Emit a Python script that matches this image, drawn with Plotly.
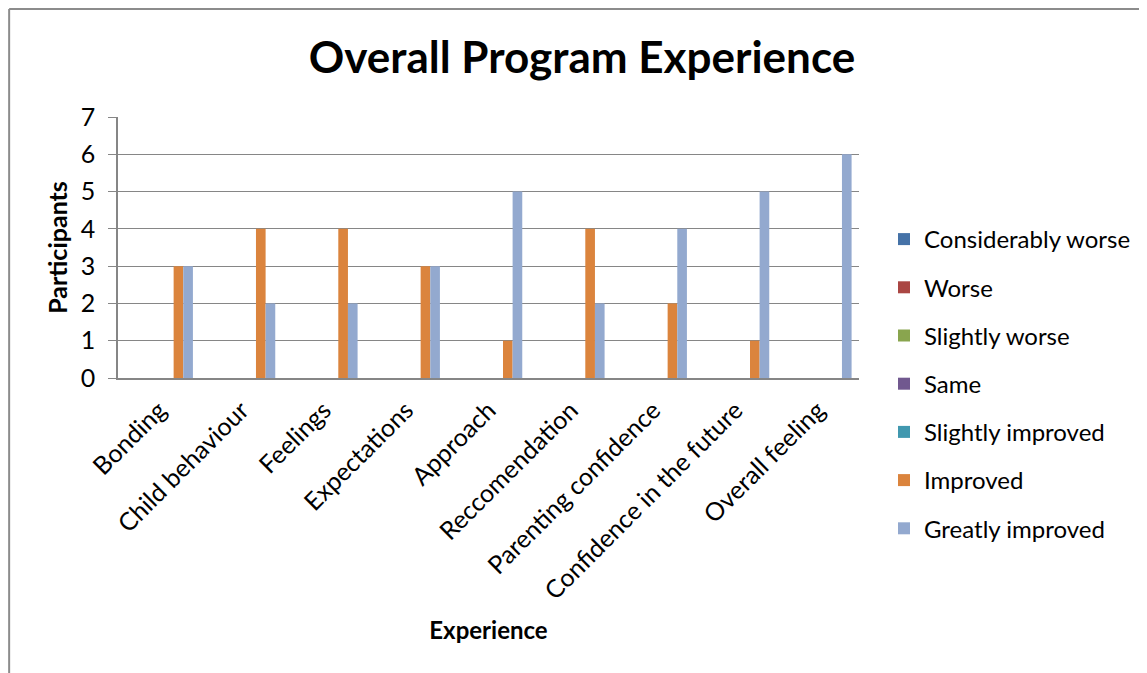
import plotly.graph_objects as go

categories = ["Bonding", "Child behaviour", "Feelings", "Expectations", "Approach",
              "Reccomendation", "Parenting confidence", "Confidence in the future",
              "Overall feeling"]
series_names = ["Considerably worse", "Worse", "Slightly worse", "Same",
                "Slightly improved", "Improved", "Greatly improved"]
considerably_worse = [0, 0, 0, 0, 0, 0, 0, 0, 0]
worse = [0, 0, 0, 0, 0, 0, 0, 0, 0]
slightly_worse = [0, 0, 0, 0, 0, 0, 0, 0, 0]
same = [0, 0, 0, 0, 0, 0, 0, 0, 0]
slightly_improved = [0, 0, 0, 0, 0, 0, 0, 0, 0]
improved = [3, 4, 4, 3, 1, 4, 2, 1, 0]
greatly_improved = [3, 2, 2, 3, 5, 2, 4, 5, 6]
colors = ["#4572A7", "#AA4643", "#89A54E", "#71588F", "#4198AF", "#DB843D", "#93A9CF"]

FONT = "Lato"
# the page body adds an 8px offset, so the figure is a little smaller
W, H = 1139, 665
L, R, T, B = 110, 287, 109, 295
pw = W - L - R
ph = H - T - B

fig = go.Figure()
all_values = [considerably_worse, worse, slightly_worse, same,
              slightly_improved, improved, greatly_improved]
for name, vals, col in zip(series_names, all_values, colors):
    fig.add_trace(go.Bar(x=categories, y=vals, name=name, legendgroup=name,
                         marker=dict(color=col, line=dict(width=0))))

# outer frame of the chart (only top and left edges visible)
fx = (1 - L) / pw
fy = 1 + (T - 1) / ph
fig.add_shape(type="line", xref="paper", yref="paper", x0=fx, x1=fx, y0=fy, y1=-B / ph - 0.1,
              line=dict(color="#8c8c8c", width=2))
fig.add_shape(type="line", xref="paper", yref="paper", x0=fx, x1=(W - L) / pw + 0.1, y0=fy, y1=fy,
              line=dict(color="#8c8c8c", width=2))

fig.update_layout(
    width=W, height=H,
    margin=dict(l=L, r=R, t=T, b=B),
    paper_bgcolor="white", plot_bgcolor="white",
    barmode="group", bargap=0.18, bargroupgap=0,
    font=dict(family=FONT, color="black"),
    title=dict(text="<b>Overall Program Experience</b>", x=(582 - 8) / W, xanchor="center",
               y=1 - (58 - 8) / H, yanchor="middle", font=dict(size=44, color="black")),
    xaxis=dict(tickangle=-45, tickfont=dict(size=25), showgrid=False,
               showline=True, linecolor="#868686", linewidth=1.5, ticks="",
               ticklabelstandoff=6,
               title=dict(text="<b>Experience</b>", font=dict(size=24), standoff=18),
               automargin=False),
    yaxis=dict(range=[0, 7], dtick=1, tickfont=dict(size=25), showgrid=True,
               gridcolor="#868686", gridwidth=1, showline=True, linecolor="#868686",
               linewidth=1.5, ticks="outside", ticklen=8, tickcolor="#868686",
               ticklabelstandoff=8, zeroline=False,
               title=dict(text="<b>Participants</b>", font=dict(size=25), standoff=6),
               automargin=False),
    legend=dict(x=(884 - 8 - L) / pw, xanchor="left", y=(370 - 209) / ph, yanchor="top",
                font=dict(size=24), tracegroupgap=14, maxheight=520,
                bgcolor="rgba(0,0,0,0)"),
    showlegend=True,
)

fig.write_html("out.html")
